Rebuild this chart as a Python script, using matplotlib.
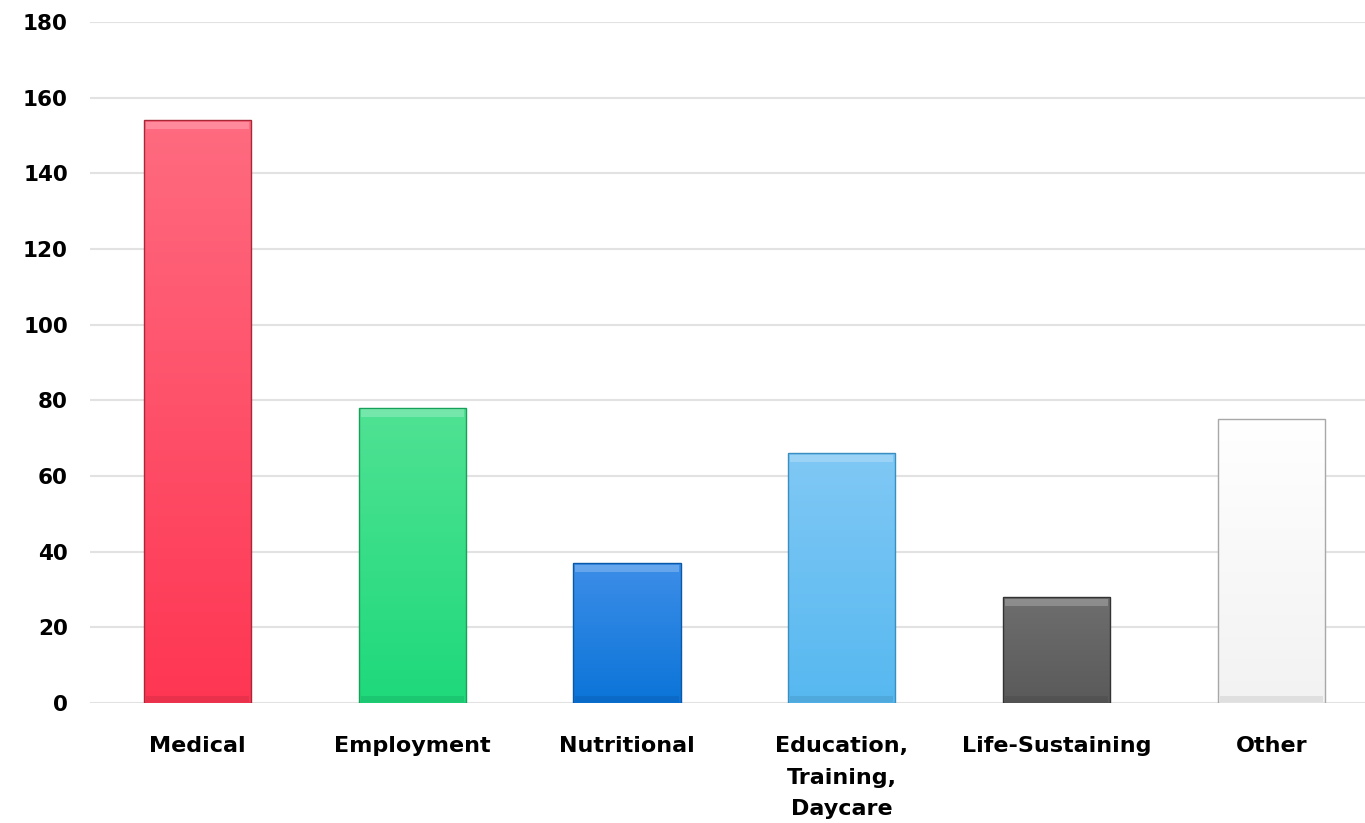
import numpy as np
import matplotlib.pyplot as plt
from matplotlib.colors import LinearSegmentedColormap
from matplotlib.patches import Rectangle

# Data
categories = ['Medical', 'Employment', 'Nutritional',
              'Education,\nTraining,\nDaycare', 'Life-Sustaining', 'Other']
values = [154, 78, 37, 66, 28, 75]

# top / bottom colours for each bar gradient
top_colors = ['#FF6B80', '#50E294', '#3D8EE8', '#80C8F5', '#6E6E6E', '#FFFFFF']
bottom_colors = ['#FE3653', '#1ED97B', '#0B74D8', '#56B8F0', '#5A5A5A', '#F2F2F2']
edge_colors = ['#A82838', '#17A05A', '#0A58A8', '#3A8FC0', '#333333', '#A8A8A8']

fig = plt.figure(figsize=(13.65, 8.23), dpi=100)
ax = fig.add_axes([0.066, 0.1458, 0.944, 0.8275])

x = np.arange(len(categories))
width = 0.5

bars = ax.bar(x, values, width=width, color='none', edgecolor='none', zorder=3)

grad = np.linspace(0, 1, 256).reshape(-1, 1)
for i, b in enumerate(bars):
    bx, by = b.get_x(), b.get_y()
    bw, bh = b.get_width(), b.get_height()
    cmap = LinearSegmentedColormap.from_list('g', [bottom_colors[i], top_colors[i]])
    im = ax.imshow(grad, cmap=cmap, aspect='auto', origin='lower',
                   extent=[bx, bx + bw, by, by + bh], zorder=3)
    clip = Rectangle((bx, by), bw, bh, transform=ax.transData)
    im.set_clip_path(clip)
    # outline for bevel feel
    ax.add_patch(Rectangle((bx, by), bw, bh, fill=False,
                           edgecolor=edge_colors[i], linewidth=1.0, zorder=4))
    # light top bevel strip, darker bottom strip
    ax.add_patch(Rectangle((bx + bw * 0.02, by + bh - 2.4), bw * 0.96, 2.0,
                           facecolor='white', alpha=0.22, edgecolor='none', zorder=4))
    ax.add_patch(Rectangle((bx + bw * 0.02, by + 0.3), bw * 0.96, 1.6,
                           facecolor='black', alpha=0.08, edgecolor='none', zorder=4))

ax.set_xlim(-0.5, len(categories) - 0.5)
ax.set_ylim(0, 180)
ax.set_yticks(np.arange(0, 181, 20))
ax.set_xticks(x)
ax.set_xticklabels(categories, fontsize=16, fontweight='bold', linespacing=1.72)
ax.tick_params(axis='y', length=0, pad=16, labelsize=15.5)
ax.tick_params(axis='x', length=0, pad=24)
for lbl in ax.get_yticklabels():
    lbl.set_fontweight('bold')

ax.yaxis.grid(True, color='#E2E2E2', linewidth=1.5, zorder=0)
ax.set_axisbelow(True)
for s in ax.spines.values():
    s.set_visible(False)

fig.savefig('out.png', dpi=100)
